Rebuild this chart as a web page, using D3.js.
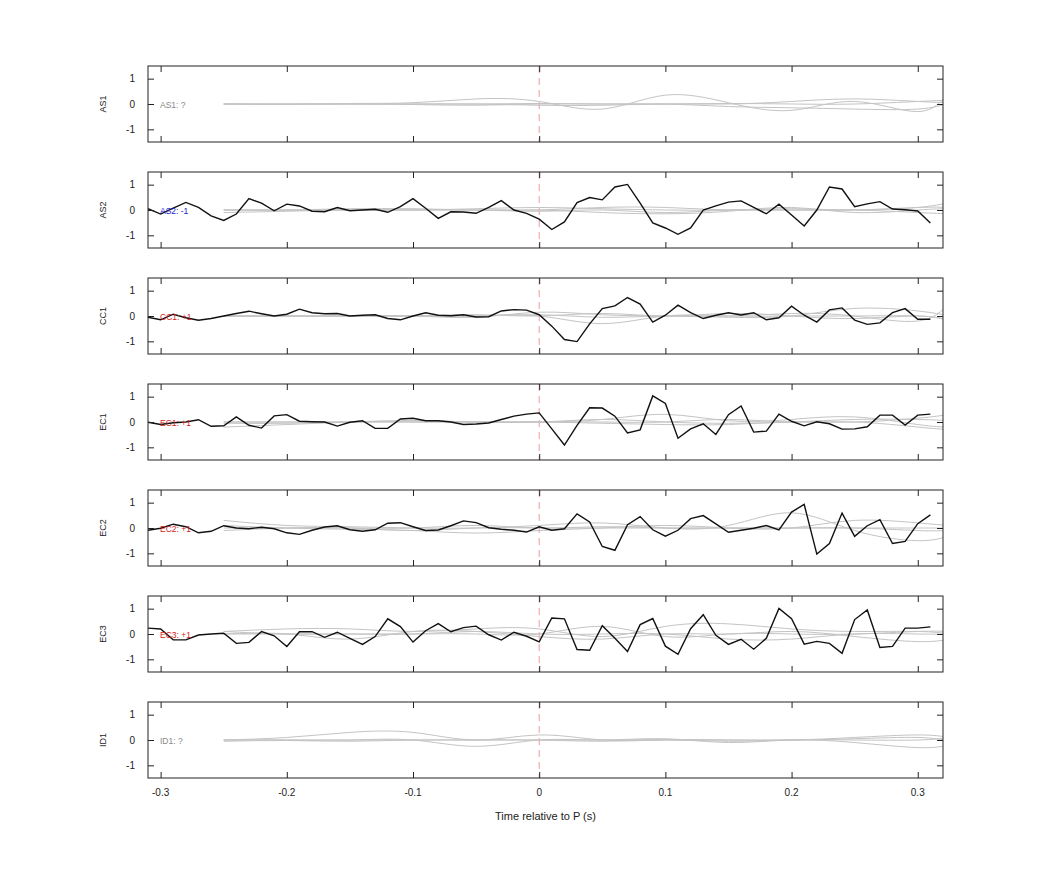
<!DOCTYPE html>
<html><head><meta charset="utf-8">
<script src="https://cdn.jsdelivr.net/npm/d3@7"></script>
<style>body{margin:0;background:#fff;font-family:"Liberation Sans",Arial,sans-serif;}</style>
</head><body><svg id="c" width="1042" height="875"></svg>
<script>
const channels = ["AS1","AS2","CC1","EC1","EC2","EC3","ID1"];
const polarity = ["?","-1","+1","+1","+1","+1","?"];
const xTicks = [-0.3,-0.2,-0.1,0,0.1,0.2,0.3];
const yTicks = [-1,0,1];
const blackTimes = d3.range(63).map(i => +(-0.31 + i*0.01).toFixed(2));
const blackAS2 = [0.05,-0.16,0.07,0.3,0.1,-0.23,-0.41,-0.16,0.45,0.27,-0.03,0.23,0.16,-0.05,-0.07,0.1,-0.03,0,0.03,-0.09,0.13,0.45,0.07,-0.33,-0.07,-0.08,-0.13,0.1,0.37,0,-0.13,-0.36,
 -0.77,-0.47,0.29,0.49,0.4,0.91,1.01,0.27,-0.51,-0.71,-0.96,-0.71,0,0.16,0.31,0.36,0.1,-0.15,0.23,-0.2,-0.63,0,0.91,0.83,0.13,0.24,0.33,0.04,0.01,-0.04,-0.51];
const blackCC1 = [-0.05,-0.15,0.07,-0.07,-0.17,-0.1,0,0.1,0.19,0.09,0,0.07,0.27,0.13,0.09,0.1,0,0.03,0.05,-0.1,-0.15,0,0.13,0.03,0.01,0.05,-0.04,-0.03,0.2,0.25,0.23,0.05,
 -0.4,-0.93,-1.01,-0.31,0.29,0.4,0.73,0.47,-0.24,0.03,0.43,0.13,-0.1,0.03,0.13,0.04,0.13,-0.15,-0.07,0.39,0.03,-0.24,0.24,0.32,-0.16,-0.33,-0.27,0.13,0.29,-0.13,-0.13];
const blackEC1 = [-0.01,-0.1,-0.03,0,0.09,-0.17,-0.15,0.2,-0.13,-0.24,0.24,0.29,0.03,0.01,0,-0.16,-0.01,0.05,-0.25,-0.25,0.12,0.15,0.05,0.05,0,-0.1,-0.08,-0.04,0.1,0.23,0.31,0.36,
 -0.27,-0.91,-0.13,0.56,0.55,0.23,-0.43,-0.31,1.03,0.73,-0.64,-0.27,-0.07,-0.49,0.29,0.63,-0.4,-0.36,0.31,0.03,-0.15,0.01,-0.07,-0.28,-0.27,-0.19,0.27,0.27,-0.12,0.27,0.31];
const blackEC2 = [-0.09,-0.01,0.15,0.05,-0.19,-0.13,0.09,0,-0.03,0.03,-0.03,-0.19,-0.25,-0.09,0.04,0.09,-0.07,-0.13,-0.07,0.19,0.21,0.05,-0.1,-0.08,0.09,0.28,0.21,0.01,-0.05,-0.09,-0.16,0.05,
 -0.09,-0.03,0.56,0.24,-0.73,-0.88,0.13,0.45,-0.07,-0.32,-0.09,0.37,0.49,0.16,-0.17,-0.09,-0.01,0.1,-0.08,0.63,0.93,-1.03,-0.61,0.59,-0.33,0.09,0.33,-0.61,-0.53,0.17,0.52];
const blackEC3 = [0.23,0.2,-0.23,-0.23,-0.04,0,0.03,-0.37,-0.33,0.1,-0.07,-0.49,0.09,0.09,-0.13,0.07,-0.17,-0.41,-0.1,0.6,0.29,-0.32,0.13,0.41,0.09,0.25,0.31,-0.03,-0.24,0.07,-0.09,-0.31,
 0.63,0.6,-0.61,-0.64,0.33,-0.17,-0.69,0.37,0.61,-0.48,-0.8,0.21,0.76,-0.05,-0.41,-0.21,-0.6,-0.17,1.01,0.6,-0.4,-0.29,-0.37,-0.76,0.57,0.95,-0.53,-0.49,0.23,0.23,0.28];
const blackSeries = [null,blackAS2,blackCC1,blackEC1,blackEC2,blackEC3,null];
// gray template traces sampled every 0.05 s from -0.25 to 0.325
const grayTimes = [-0.25,-0.2,-0.15,-0.1,-0.05,0,0.05,0.1,0.15,0.2,0.25,0.3,0.325];
const grayAS1 = [[0,0,0,0,0,0.02,0,0,0.02,0,0,0.1,0.15],[0,-0.02,0.02,0.05,0.2,0.1,-0.2,0.35,0.05,-0.25,0.1,-0.3,0.5],[0,0,0,0,0,-0.05,-0.05,0,0,0.1,0.2,0.1,0.05],[0,0,0,-0.02,-0.05,0,0,0,-0.1,-0.15,-0.2,-0.2,0.05]];
const grayAS2 = [[0,0,0,0,0.05,0.1,0.05,0,0,0.05,0,0.1,0.3],[-0.1,-0.05,0,0,0,-0.05,0,-0.1,0,0,0,0.1,0.1],[0,0,0.05,0.05,0,0,0.1,0.1,0,0,0,-0.1,-0.15],[0,0,0,0,0,0,-0.1,-0.15,-0.05,0.1,-0.1,0,0.05]];
const grayCC1 = [[0,0,0,0,0,0.05,-0.05,0,0,0.1,0,-0.2,0.5],[0,0,0,0,-0.05,0.15,0.05,0,-0.05,0,0.3,0.2,0],[0,0,0,0,0,0,-0.3,0,0,0,0,0,-0.15],[0,0,0,0,0.05,0,0.1,0,0.1,0,-0.1,0,-0.2]];
const grayEC1 = [[-0.2,-0.1,0,0.05,0,0,0.1,0.3,0.05,0.1,0.2,-0.1,-0.2],[0,0,0,0,0,0,0.1,0,-0.05,0,0.1,0.1,0.05],[-0.05,-0.05,0,0,0,0,-0.05,-0.1,-0.1,0,0,0.15,0.3],[0,0,0,0.05,0,0,0,0,0.1,0,0,-0.2,-0.3]];
const grayEC2 = [[0.3,0.1,0.05,0,0,0.1,0.2,0,0.1,0.6,-0.1,-0.5,-0.3],[0.1,0,-0.05,-0.1,-0.2,-0.1,0,0.1,0,0,0.3,0.2,0.1],[0,0,0,0,0.1,0,0.05,0,0,0,0,-0.1,-0.1],[-0.1,0,0,-0.1,0,0,0,0,0,0,0,0,0]];
const grayEC3 = [[0.1,0.2,0.2,0.1,0.2,0.2,-0.1,0.3,0.4,0.2,0.1,0.1,0],[0,0,-0.2,0.1,0.1,-0.1,-0.2,0,0,0.1,-0.1,-0.3,-0.2],[0.1,0,0,0,0.1,0,0,0,-0.2,-0.2,0,0,0],[0,0,0,0,0,0,0.3,-0.1,0,0,0,0.1,0.1]];
const grayID1 = [[0,0.1,0.3,0.3,0,0.2,0,0,0,0,0.1,0.2,0.1],[0,0,0,0,-0.25,0,0,0.05,-0.1,0,-0.1,-0.3,-0.2],[-0.05,-0.02,-0.05,0,0,0,-0.05,0,-0.05,0,0,0,0.1],[0,0,0,0,0,0,0,0.02,0,0,0.05,0.1,-0.05]];
const graySeries = [grayAS1,grayAS2,grayCC1,grayEC1,grayEC2,grayEC3,grayID1];
const labelColors = {"?":"#888","-1":"#1a1acc","+1":"#d42020"};

const svg = d3.select("#c");
const L=148,R=943,T0=66,H=76,STEP=106;
const x = d3.scaleLinear().domain([-0.31,0.32]).range([L,R]);
channels.forEach((ch,i)=>{
  const top=T0+i*STEP;
  const y = d3.scaleLinear().domain([-1.5,1.5]).range([top+H,top]);
  const g = svg.append("g");
  g.append("defs").append("clipPath").attr("id","cp"+i).append("rect").attr("x",L).attr("y",top).attr("width",R-L).attr("height",H);
  const pl = g.append("g").attr("clip-path",`url(#cp${i})`);
  pl.append("line").attr("x1",x(0)).attr("x2",x(0)).attr("y1",top).attr("y2",top+H)
    .attr("stroke","#f09a9a").attr("stroke-dasharray","7,5").attr("stroke-width",1);
  const gl = d3.line().x((d,j)=>x(grayTimes[j])).y(d=>y(d)).curve(d3.curveNatural);
  graySeries[i].forEach(s=>pl.append("path").attr("d",gl(s)).attr("fill","none").attr("stroke","#c4c4c4").attr("stroke-width",1));
  g.append("text").attr("x",160).attr("y",y(0)+3.5).attr("font-size",8.5).attr("fill",labelColors[polarity[i]]).text(ch+": "+polarity[i]);
  if(blackSeries[i]){
    const bl=d3.line().x((d,j)=>x(blackTimes[j])).y(d=>y(d));
    pl.append("path").attr("d",bl(blackSeries[i])).attr("fill","none").attr("stroke","#111").attr("stroke-width",1.4);
  }
  const ax=(a)=>a.call(s=>s.select(".domain").remove()).call(s=>s.selectAll("line").attr("stroke","#222"));
  g.append("g").attr("transform",`translate(${L},0)`).call(d3.axisRight(y).tickValues(yTicks).tickSize(6).tickFormat("")).call(ax);
  g.append("g").attr("transform",`translate(${R},0)`).call(d3.axisLeft(y).tickValues(yTicks).tickSize(6).tickFormat("")).call(ax);
  g.append("g").attr("transform",`translate(0,${top})`).call(d3.axisBottom(x).tickValues(xTicks).tickSize(6).tickFormat("")).call(ax);
  g.append("g").attr("transform",`translate(0,${top+H})`).call(d3.axisTop(x).tickValues(xTicks).tickSize(6).tickFormat("")).call(ax);
  yTicks.forEach(v=>g.append("text").attr("x",L-13).attr("y",y(v)+3.5).attr("text-anchor","end").attr("font-size",10).attr("fill","#222").text(v===-1?"-1":v));
  g.append("rect").attr("x",L).attr("y",top).attr("width",R-L).attr("height",H).attr("fill","none").attr("stroke","#222").attr("stroke-width",1);
  g.append("text").attr("transform",`translate(106,${top+H/2}) rotate(-90)`).attr("text-anchor","middle").attr("font-size",9).attr("fill","#222").text(ch);
  if(i===channels.length-1){
    xTicks.forEach(v=>g.append("text").attr("x",x(v)).attr("y",top+H+18).attr("text-anchor","middle").attr("font-size",10).attr("fill","#222").text(v===0?"0":String(v)));
    g.append("text").attr("x",(L+R)/2).attr("y",top+H+42).attr("text-anchor","middle").attr("font-size",11).attr("fill","#222").text("Time relative to P (s)");
  }
});
</script></body></html>
